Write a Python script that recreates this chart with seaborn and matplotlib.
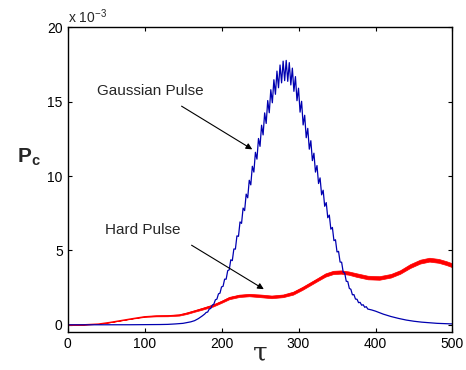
import numpy as np
import pandas as pd
import seaborn as sns
import matplotlib
matplotlib.use("Agg")
import matplotlib.pyplot as plt

# values in units of 1e-3 (axis shows "x 10^-3")
blue_tau_left = [0, 20, 40, 60, 80, 100, 120, 130, 140, 150, 160, 165, 170, 175, 178]
blue_left = [0, 0, 0, 0, 0.005, 0.01, 0.02, 0.03, 0.06, 0.1, 0.2, 0.28, 0.42, 0.6, 0.72]

# oscillating part, sampled every 2 in tau from 180 to 390
blue_mid = [0.83, 0.86, 1.06, 1.10, 1.33, 1.39, 1.68, 1.73, 2.08, 2.13,
            2.55, 2.59, 3.07, 3.07, 3.64, 3.70, 4.37, 4.32, 5.10, 5.09,
            5.98, 5.95, 6.92, 6.82, 7.85, 7.68, 8.79, 8.54, 9.72, 9.41,
            10.66, 10.27, 11.60, 11.14, 12.53, 12.00, 13.42, 12.77, 14.25, 13.54,
            15.08, 14.26, 15.81, 14.93, 16.48, 15.50, 17.06, 15.94, 17.47, 16.27,
            17.73, 16.42, 17.78, 16.37, 17.63, 16.13, 17.26, 15.70, 16.69, 15.07,
            15.91, 14.30, 15.03, 13.44, 14.09, 12.58, 13.21, 11.81, 12.38, 11.04,
            11.54, 10.27, 10.71, 9.50, 9.88, 8.74, 9.05, 7.97, 8.22, 7.20,
            7.38, 6.43, 6.55, 5.66, 5.72, 4.90, 4.94, 4.22, 4.21, 3.55,
            3.48, 2.93, 2.91, 2.45, 2.39, 2.02, 2.03, 1.73, 1.72, 1.49,
            1.51, 1.32, 1.35, 1.18, 1.22, 1.06]

blue_tau_right = [395, 400, 410, 420, 430, 440, 450, 460, 470, 480, 490, 500]
blue_right = [1.0, 0.92, 0.72, 0.56, 0.43, 0.32, 0.24, 0.18, 0.14, 0.1, 0.08, 0.06]

red_tau = [0, 20, 40, 55, 70, 85, 100, 115, 130, 145, 155, 165, 175, 189, 200,
           210, 223, 236, 250, 265, 280, 293, 305, 315, 325, 335, 345, 355, 365,
           375, 390, 405, 420, 432, 445, 458, 470, 482, 492, 500]
red_mid = [0, 0.01, 0.06, 0.17, 0.3, 0.43, 0.55, 0.6, 0.61, 0.66, 0.78, 0.93, 1.08,
           1.3, 1.55, 1.8, 1.95, 2.0, 1.95, 1.88, 1.95, 2.13, 2.45, 2.75, 3.05,
           3.35, 3.52, 3.55, 3.48, 3.35, 3.18, 3.15, 3.3, 3.55, 3.95, 4.25, 4.38,
           4.3, 4.15, 4.0]
# half of the fast ripple height
red_half = [0, 0, 0, 0, 0.0, 0.01, 0.02, 0.03, 0.035, 0.04, 0.05, 0.05, 0.06, 0.07,
            0.07, 0.08, 0.08, 0.08, 0.09, 0.09, 0.09, 0.1, 0.1, 0.1, 0.1, 0.11,
            0.11, 0.11, 0.11, 0.12, 0.12, 0.12, 0.12, 0.12, 0.13, 0.13, 0.13, 0.13,
            0.13, 0.13]

x_ticks = [0, 100, 200, 300, 400, 500]
y_ticks = [0, 5, 10, 15, 20]


def build_frames():
    tau_mid = np.arange(180, 392, 2)
    blue = pd.DataFrame({
        'tau': list(blue_tau_left) + list(tau_mid) + list(blue_tau_right),
        'pc': blue_left + blue_mid + blue_right,
    })
    red = pd.DataFrame({'tau': red_tau, 'pc': red_mid, 'half': red_half})
    return blue, red


def make_plot(blue, red):
    sns.set_style("ticks")
    plt.rcParams['font.family'] = ['Liberation Sans', 'DejaVu Sans']
    plt.rcParams['mathtext.fontset'] = 'custom'
    plt.rcParams['mathtext.rm'] = 'Liberation Sans'
    plt.rcParams['mathtext.bf'] = 'Liberation Sans:bold'
    plt.rcParams['mathtext.default'] = 'regular'

    fig = plt.figure(figsize=(4.66, 3.70), dpi=100)
    ax = fig.add_axes([0.145, 0.102, 0.826, 0.824])

    ax.fill_between(red['tau'], red['pc'] - red['half'], red['pc'] + red['half'],
                    color='#ff0000', lw=0.5)
    sns.lineplot(x='tau', y='pc', data=red, color='#ff0000', lw=0.8,
                 estimator=None, ax=ax)
    sns.lineplot(x='tau', y='pc', data=blue, color='#0000b0', lw=0.9,
                 estimator=None, ax=ax)

    ax.set_xlim(0, 500)
    ax.set_ylim(-0.5, 20)
    ax.set_xticks(x_ticks)
    ax.set_yticks(y_ticks)
    ax.tick_params(direction='in', length=3, width=0.8, labelsize=10,
                   top=True, right=True, colors='black')
    for s in ax.spines.values():
        s.set_visible(True)
        s.set_linewidth(1.0)
        s.set_color('black')

    ax.set_xlabel('')
    ax.text(0.5, -0.068, 'τ', transform=ax.transAxes, family='DejaVu Serif',
            fontsize=19, ha='center', va='center')
    ax.set_ylabel(r'$\mathbf{P_c}$', fontsize=15, rotation=0, labelpad=14)
    ax.yaxis.set_label_coords(-0.1, 0.54)

    ax.text(0.0, 1.005, r'x 10$^{-3}$', transform=ax.transAxes, fontsize=10,
            ha='left', va='bottom')

    ax.annotate('', xy=(243, 11.7), xytext=(145, 14.8),
                arrowprops=dict(arrowstyle='-|>', color='black', lw=0.8,
                                mutation_scale=9))
    ax.text(108, 15.7, 'Gaussian Pulse', fontsize=11, ha='center', va='center')
    ax.annotate('', xy=(258, 2.3), xytext=(158, 5.45),
                arrowprops=dict(arrowstyle='-|>', color='black', lw=0.8,
                                mutation_scale=9))
    ax.text(98, 6.4, 'Hard Pulse', fontsize=11, ha='center', va='center')

    fig.savefig('out.png', dpi=100)
    plt.close(fig)


if __name__ == '__main__':
    blue, red = build_frames()
    make_plot(blue, red)
